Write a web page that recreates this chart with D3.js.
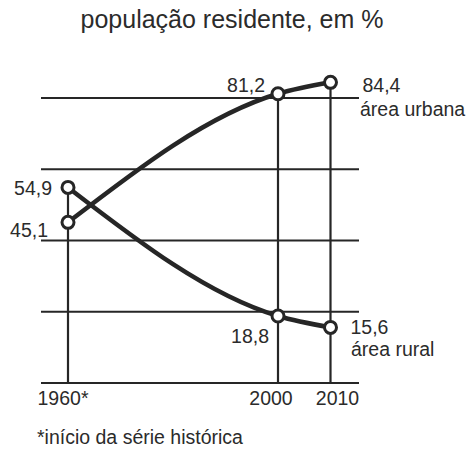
<!DOCTYPE html>
<html>
<head>
<meta charset="utf-8">
<script src="https://cdn.jsdelivr.net/npm/d3@7"></script>
<style>
  body { margin: 0; background: #fff; }
  text { font-family: "Liberation Sans", Arial, sans-serif; fill: #2b2b2b; }
</style>
</head>
<body>
<svg id="svg" width="467" height="450"></svg>
<script>
// data
const years = [1960, 2000, 2010];
const yearLabels = ["1960*", "2000", "2010"];
const urbana = [45.1, 81.2, 84.4];
const rural = [54.9, 18.8, 15.6];
const gridValues = [0, 20, 40, 60, 80];

const ink = "#262626";
const svg = d3.select("#svg");

const x = d3.scaleLinear().domain([1960, 2010]).range([68, 330.5]);
const y = d3.scaleLinear().domain([0, 80]).range([383, 98]);

// title
svg.append("text")
  .attr("x", 232)
  .attr("y", 28)
  .attr("text-anchor", "middle")
  .style("font-size", "25px")
  .text("população residente, em %");

// horizontal grid
svg.append("g")
  .selectAll("line")
  .data(gridValues)
  .join("line")
  .attr("x1", 41)
  .attr("x2", 359)
  .attr("y1", (d) => y(d))
  .attr("y2", (d) => y(d))
  .attr("stroke", ink)
  .attr("stroke-width", 2.2);

// vertical lines from the base up to the highest point of each year
svg.append("g")
  .selectAll("line")
  .data(years)
  .join("line")
  .attr("x1", (d) => x(d))
  .attr("x2", (d) => x(d))
  .attr("y1", y(0))
  .attr("y2", (d, i) => y(Math.max(urbana[i], rural[i])))
  .attr("stroke", ink)
  .attr("stroke-width", 2.2);

// year labels
const yearDx = [-5, -7, 7];
svg.append("g")
  .selectAll("text")
  .data(years)
  .join("text")
  .attr("x", (d, i) => x(d) + yearDx[i])
  .attr("y", 405)
  .attr("text-anchor", "middle")
  .style("font-size", "19.5px")
  .text((d, i) => yearLabels[i]);

// the two curves
const line = d3.line()
  .x((d, i) => x(years[i]))
  .y((d) => y(d))
  .curve(d3.curveMonotoneX);

[urbana, rural].forEach((serie) => {
  svg.append("path")
    .attr("d", line(serie))
    .attr("fill", "none")
    .attr("stroke", ink)
    .attr("stroke-width", 4.5);

  svg.append("g")
    .selectAll("circle")
    .data(serie)
    .join("circle")
    .attr("cx", (d, i) => x(years[i]))
    .attr("cy", (d) => y(d))
    .attr("r", 6)
    .attr("fill", "#fff")
    .attr("stroke", ink)
    .attr("stroke-width", 3);
});

const fmt = (v) => d3.format(".1f")(v).replace(".", ",");

// value labels
const valueLabels = [
  { v: urbana[0], i: 0, dx: -20, dy: 15, anchor: "end" },
  { v: urbana[1], i: 1, dx: -13, dy: -2, anchor: "end" },
  { v: urbana[2], i: 2, dx: 32, dy: 10, anchor: "start" },
  { v: rural[0], i: 0, dx: -16, dy: 8, anchor: "end" },
  { v: rural[1], i: 1, dx: -9, dy: 27, anchor: "end" },
  { v: rural[2], i: 2, dx: 20, dy: 7, anchor: "start" }
];

svg.append("g")
  .selectAll("text")
  .data(valueLabels)
  .join("text")
  .attr("x", (d) => x(years[d.i]) + d.dx)
  .attr("y", (d) => y(d.v) + d.dy)
  .attr("text-anchor", (d) => d.anchor)
  .style("font-size", "19.5px")
  .text((d) => fmt(d.v));

// series names
svg.append("text")
  .attr("x", 360)
  .attr("y", 116)
  .style("font-size", "19.5px")
  .text("área urbana");

svg.append("text")
  .attr("x", 351)
  .attr("y", 356)
  .style("font-size", "19.5px")
  .text("área rural");

// footnote
svg.append("text")
  .attr("x", 37)
  .attr("y", 444)
  .style("font-size", "19.5px")
  .text("*início da série histórica");
</script>
</body>
</html>
